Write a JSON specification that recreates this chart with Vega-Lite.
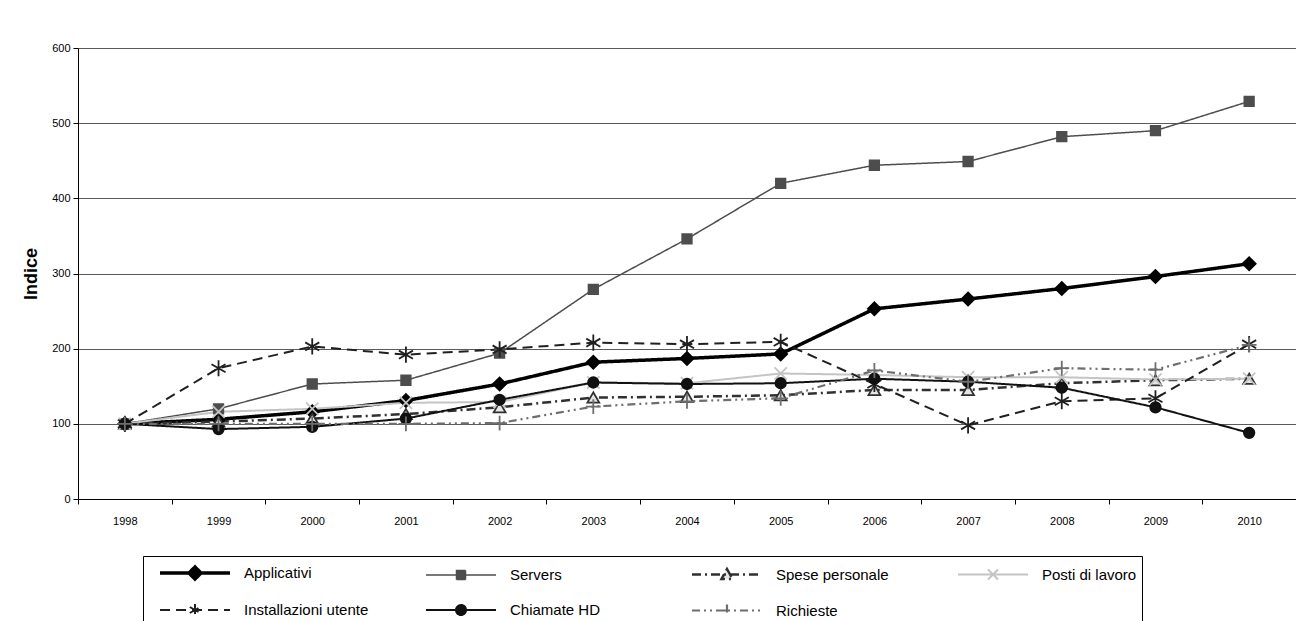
{
  "$schema": "https://vega.github.io/schema/vega-lite/v6.json",
  "width": 1218,
  "height": 451,
  "autosize": {"type": "none"},
  "padding": {"left": 78, "top": 48, "right": 0, "bottom": 122},
  "background": "white",
  "config": {"view": {"stroke": null}, "font": "Liberation Sans"},
  "datasets": {
    "d": [
      {"year": "1998", "series": "Applicativi", "value": 100},
      {"year": "1999", "series": "Applicativi", "value": 106},
      {"year": "2000", "series": "Applicativi", "value": 116},
      {"year": "2001", "series": "Applicativi", "value": 131},
      {"year": "2002", "series": "Applicativi", "value": 153},
      {"year": "2003", "series": "Applicativi", "value": 182},
      {"year": "2004", "series": "Applicativi", "value": 187},
      {"year": "2005", "series": "Applicativi", "value": 193},
      {"year": "2006", "series": "Applicativi", "value": 253},
      {"year": "2007", "series": "Applicativi", "value": 266},
      {"year": "2008", "series": "Applicativi", "value": 280},
      {"year": "2009", "series": "Applicativi", "value": 296},
      {"year": "2010", "series": "Applicativi", "value": 313},
      {"year": "1998", "series": "Servers", "value": 100},
      {"year": "1999", "series": "Servers", "value": 120},
      {"year": "2000", "series": "Servers", "value": 153},
      {"year": "2001", "series": "Servers", "value": 158},
      {"year": "2002", "series": "Servers", "value": 194},
      {"year": "2003", "series": "Servers", "value": 279},
      {"year": "2004", "series": "Servers", "value": 346},
      {"year": "2005", "series": "Servers", "value": 420},
      {"year": "2006", "series": "Servers", "value": 444},
      {"year": "2007", "series": "Servers", "value": 449},
      {"year": "2008", "series": "Servers", "value": 482},
      {"year": "2009", "series": "Servers", "value": 490},
      {"year": "2010", "series": "Servers", "value": 529},
      {"year": "1998", "series": "Spese personale", "value": 100},
      {"year": "1999", "series": "Spese personale", "value": 103},
      {"year": "2000", "series": "Spese personale", "value": 107},
      {"year": "2001", "series": "Spese personale", "value": 113},
      {"year": "2002", "series": "Spese personale", "value": 122},
      {"year": "2003", "series": "Spese personale", "value": 135},
      {"year": "2004", "series": "Spese personale", "value": 136},
      {"year": "2005", "series": "Spese personale", "value": 138},
      {"year": "2006", "series": "Spese personale", "value": 145},
      {"year": "2007", "series": "Spese personale", "value": 145},
      {"year": "2008", "series": "Spese personale", "value": 154},
      {"year": "2009", "series": "Spese personale", "value": 158},
      {"year": "2010", "series": "Spese personale", "value": 160},
      {"year": "1998", "series": "Posti di lavoro", "value": 100},
      {"year": "1999", "series": "Posti di lavoro", "value": 116},
      {"year": "2000", "series": "Posti di lavoro", "value": 120},
      {"year": "2001", "series": "Posti di lavoro", "value": 128},
      {"year": "2002", "series": "Posti di lavoro", "value": 129},
      {"year": "2003", "series": "Posti di lavoro", "value": 155},
      {"year": "2004", "series": "Posti di lavoro", "value": 154},
      {"year": "2005", "series": "Posti di lavoro", "value": 167},
      {"year": "2006", "series": "Posti di lavoro", "value": 165},
      {"year": "2007", "series": "Posti di lavoro", "value": 162},
      {"year": "2008", "series": "Posti di lavoro", "value": 162},
      {"year": "2009", "series": "Posti di lavoro", "value": 159},
      {"year": "2010", "series": "Posti di lavoro", "value": 160},
      {"year": "1998", "series": "Installazioni utente", "value": 100},
      {"year": "1999", "series": "Installazioni utente", "value": 174},
      {"year": "2000", "series": "Installazioni utente", "value": 203},
      {"year": "2001", "series": "Installazioni utente", "value": 192},
      {"year": "2002", "series": "Installazioni utente", "value": 199},
      {"year": "2003", "series": "Installazioni utente", "value": 208},
      {"year": "2004", "series": "Installazioni utente", "value": 206},
      {"year": "2005", "series": "Installazioni utente", "value": 209},
      {"year": "2006", "series": "Installazioni utente", "value": 153},
      {"year": "2007", "series": "Installazioni utente", "value": 98},
      {"year": "2008", "series": "Installazioni utente", "value": 130},
      {"year": "2009", "series": "Installazioni utente", "value": 134},
      {"year": "2010", "series": "Installazioni utente", "value": 206},
      {"year": "1998", "series": "Chiamate HD", "value": 100},
      {"year": "1999", "series": "Chiamate HD", "value": 93},
      {"year": "2000", "series": "Chiamate HD", "value": 96},
      {"year": "2001", "series": "Chiamate HD", "value": 107},
      {"year": "2002", "series": "Chiamate HD", "value": 132},
      {"year": "2003", "series": "Chiamate HD", "value": 155},
      {"year": "2004", "series": "Chiamate HD", "value": 153},
      {"year": "2005", "series": "Chiamate HD", "value": 154},
      {"year": "2006", "series": "Chiamate HD", "value": 160},
      {"year": "2007", "series": "Chiamate HD", "value": 156},
      {"year": "2008", "series": "Chiamate HD", "value": 148},
      {"year": "2009", "series": "Chiamate HD", "value": 122},
      {"year": "2010", "series": "Chiamate HD", "value": 88},
      {"year": "1998", "series": "Richieste", "value": 100},
      {"year": "1999", "series": "Richieste", "value": 100},
      {"year": "2000", "series": "Richieste", "value": 100},
      {"year": "2001", "series": "Richieste", "value": 100},
      {"year": "2002", "series": "Richieste", "value": 101},
      {"year": "2003", "series": "Richieste", "value": 123},
      {"year": "2004", "series": "Richieste", "value": 130},
      {"year": "2005", "series": "Richieste", "value": 134},
      {"year": "2006", "series": "Richieste", "value": 171},
      {"year": "2007", "series": "Richieste", "value": 156},
      {"year": "2008", "series": "Richieste", "value": 174},
      {"year": "2009", "series": "Richieste", "value": 172},
      {"year": "2010", "series": "Richieste", "value": 205}
    ]
  },
  "data": {"name": "d"},
  "encoding": {
    "x": {
      "field": "year",
      "type": "ordinal",
      "scale": {"type": "band", "paddingInner": 0, "paddingOuter": 0},
      "axis": {
        "title": null,
        "labelAngle": 0,
        "labelFontSize": 11,
        "labelColor": "black",
        "labelFont": "Liberation Sans",
        "tickBand": "extent",
        "tickSize": 5,
        "tickColor": "black",
        "labelPadding": 11,
        "domainColor": "black",
        "grid": false
      }
    },
    "y": {
      "field": "value",
      "type": "quantitative",
      "scale": {"domain": [0, 600], "nice": false},
      "axis": {
        "values": [0, 100, 200, 300, 400, 500, 600],
        "title": "Indice",
        "titleFont": "Liberation Sans",
        "titleFontSize": 18,
        "titleFontWeight": "bold",
        "titleColor": "black",
        "titlePadding": 11,
        "labelFontSize": 11,
        "labelColor": "black",
        "labelFont": "Liberation Sans",
        "labelPadding": 3,
        "tickSize": 5,
        "tickColor": "black",
        "domainColor": "black",
        "gridColor": "#5a5a5a",
        "gridWidth": 1
      }
    }
  },
  "resolve": {
    "scale": {
      "stroke": "independent",
      "fill": "independent",
      "shape": "independent",
      "strokeDash": "independent",
      "strokeWidth": "independent",
      "size": "independent"
    }
  },
  "layer": [
    {
      "mark": {"type": "line", "strokeJoin": "round"},
      "encoding": {
        "stroke": {
          "field": "series",
          "type": "nominal",
          "legend": null,
          "scale": {
            "domain": ["Applicativi", "Servers", "Spese personale", "Posti di lavoro", "Installazioni utente", "Chiamate HD", "Richieste"],
            "range": ["#000000", "#4d4d4d", "#303030", "#c4c4c4", "#202020", "#111111", "#6e6e6e"]
          }
        },
        "strokeDash": {
          "field": "series",
          "type": "nominal",
          "legend": null,
          "scale": {
            "domain": ["Applicativi", "Servers", "Spese personale", "Posti di lavoro", "Installazioni utente", "Chiamate HD", "Richieste"],
            "range": [[1, 0], [1, 0], [9, 4, 2, 4], [1, 0], [10, 6], [1, 0], [8, 4, 2, 4, 2, 4]]
          }
        },
        "strokeWidth": {
          "field": "series",
          "type": "nominal",
          "legend": null,
          "scale": {
            "type": "ordinal",
            "domain": ["Applicativi", "Servers", "Spese personale", "Posti di lavoro", "Installazioni utente", "Chiamate HD", "Richieste"],
            "range": [3.5, 1.5, 2.5, 2, 2, 2, 2.2]
          }
        }
      }
    },
    {
      "mark": {"type": "point", "strokeWidth": 1.8, "opacity": 1, "filled": true},
      "encoding": {
        "stroke": {
          "field": "series",
          "type": "nominal",
          "legend": null,
          "scale": {
            "domain": ["Applicativi", "Servers", "Spese personale", "Posti di lavoro", "Installazioni utente", "Chiamate HD", "Richieste"],
            "range": ["#000000", "#4d4d4d", "#303030", "#c4c4c4", "#202020", "#111111", "#6e6e6e"]
          }
        },
        "fill": {
          "field": "series",
          "type": "nominal",
          "legend": null,
          "scale": {
            "domain": ["Applicativi", "Servers", "Spese personale", "Posti di lavoro", "Installazioni utente", "Chiamate HD", "Richieste"],
            "range": ["#000000", "#4d4d4d", "#e6e6e6", "#c4c4c4", "#202020", "#111111", "#6e6e6e"]
          }
        },
        "shape": {
          "field": "series",
          "type": "nominal",
          "legend": null,
          "scale": {
            "domain": ["Applicativi", "Servers", "Spese personale", "Posti di lavoro", "Installazioni utente", "Chiamate HD", "Richieste"],
            "range": ["diamond", "square", "triangle-up", "M-1,-1L1,1M-1,1L1,-1", "M0,-1V1M-0.87,-0.5L0.87,0.5M-0.87,0.5L0.87,-0.5", "circle", "M-1,0H1M0,-1V1"]
          }
        },
        "size": {
          "field": "series",
          "type": "nominal",
          "legend": null,
          "scale": {
            "type": "ordinal",
            "domain": ["Applicativi", "Servers", "Spese personale", "Posti di lavoro", "Installazioni utente", "Chiamate HD", "Richieste"],
            "range": [170, 90, 140, 150, 260, 110, 220]
          }
        }
      }
    },
    {
      "transform": [{"filter": "false"}],
      "mark": {"type": "point", "filled": true, "opacity": 1, "size": 400},
      "encoding": {
        "shape": {
          "field": "series",
          "type": "nominal",
          "scale": {
            "domain": ["Applicativi", "Servers", "Spese personale", "Posti di lavoro", "Installazioni utente", "Chiamate HD", "Richieste"],
            "range": [
              "M-3.5,0H3.5M0,-0.6L0.6,0L0,0.6L-0.6,0Z",
              "M-3.5,0H3.5M-0.45,-0.45H0.45V0.45H-0.45Z",
              "M-3.5,0H3.5M0,-0.55L0.55,0.45H-0.55Z",
              "M-3.5,0H3.5M-0.5,-0.5L0.5,0.5M-0.5,0.5L0.5,-0.5",
              "M-3.5,0H3.5M0,-0.6V0.6M-0.52,-0.3L0.52,0.3M-0.52,0.3L0.52,-0.3",
              "M-3.5,0H3.5M-0.5,0A0.5,0.5,0,1,0,0.5,0A0.5,0.5,0,1,0,-0.5,0Z",
              "M-3.5,0H3.5M-0.6,0H0.6M0,-0.6V0.6"
            ]
          },
          "legend": {
            "title": null,
            "orient": "none",
            "legendX": 65,
            "legendY": 508,
            "columns": 4,
            "direction": "horizontal",
            "gridAlign": "all",
            "columnPadding": 45,
            "rowPadding": 13,
            "padding": 5,
            "strokeColor": "black",
            "fillColor": "white",
            "symbolSize": 400,
            "symbolOffset": 35,
            "labelOffset": 37,
            "labelFontSize": 15,
            "labelFont": "Liberation Sans",
            "labelColor": "black",
            "labelLimit": 300
          }
        },
        "stroke": {
          "field": "series",
          "type": "nominal",
          "legend": {"title": null},
          "scale": {
            "domain": ["Applicativi", "Servers", "Spese personale", "Posti di lavoro", "Installazioni utente", "Chiamate HD", "Richieste"],
            "range": ["#000000", "#4d4d4d", "#303030", "#c4c4c4", "#202020", "#111111", "#6e6e6e"]
          }
        },
        "fill": {
          "field": "series",
          "type": "nominal",
          "legend": {"title": null},
          "scale": {
            "domain": ["Applicativi", "Servers", "Spese personale", "Posti di lavoro", "Installazioni utente", "Chiamate HD", "Richieste"],
            "range": ["#000000", "#4d4d4d", "#e6e6e6", "#c4c4c4", "#202020", "#111111", "#6e6e6e"]
          }
        },
        "strokeDash": {
          "field": "series",
          "type": "nominal",
          "legend": {"title": null},
          "scale": {
            "domain": ["Applicativi", "Servers", "Spese personale", "Posti di lavoro", "Installazioni utente", "Chiamate HD", "Richieste"],
            "range": [[1, 0], [1, 0], [9, 4, 2, 4], [1, 0], [10, 6], [1, 0], [8, 4, 2, 4, 2, 4]]
          }
        },
        "strokeWidth": {
          "field": "series",
          "type": "nominal",
          "legend": {"title": null},
          "scale": {
            "type": "ordinal",
            "domain": ["Applicativi", "Servers", "Spese personale", "Posti di lavoro", "Installazioni utente", "Chiamate HD", "Richieste"],
            "range": [3.5, 1.5, 2.5, 2, 2, 2, 2.2]
          }
        }
      }
    }
  ]
}
